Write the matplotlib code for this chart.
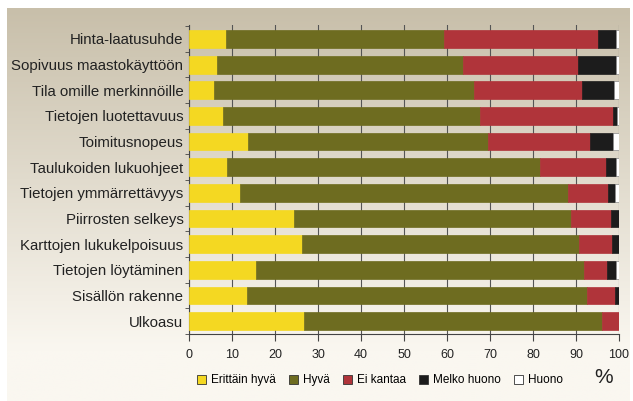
import matplotlib.pyplot as plt
import matplotlib
import numpy as np
from matplotlib.patches import Patch

matplotlib.rc('font', family=['Liberation Sans', 'DejaVu Sans'])

categories = ["Hinta-laatusuhde", "Sopivuus maastokäyttöön", "Tila omille merkinnöille",
              "Tietojen luotettavuus", "Toimitusnopeus", "Taulukoiden lukuohjeet",
              "Tietojen ymmärrettävyys", "Piirrosten selkeys", "Karttojen lukukelpoisuus",
              "Tietojen löytäminen", "Sisällön rakenne", "Ulkoasu"]
series_names = ["Erittäin hyvä", "Hyvä", "Ei kantaa", "Melko huono", "Huono"]

erittain_hyva = [8.7, 6.4, 5.8, 7.8, 13.8, 8.9, 11.8, 24.4, 26.2, 15.6, 13.6, 26.8]
hyva = [50.6, 57.4, 60.5, 59.9, 55.8, 72.8, 76.3, 64.5, 64.6, 76.2, 79.0, 69.3]
ei_kantaa = [35.8, 26.6, 25.1, 30.9, 23.6, 15.3, 9.3, 9.2, 7.6, 5.5, 6.4, 3.9]
melko_huono = [4.1, 9.0, 7.4, 0.9, 5.4, 2.4, 1.6, 1.8, 1.5, 2.1, 0.9, 0.0]
huono = [0.8, 0.6, 1.2, 0.5, 1.4, 0.6, 1.0, 0.1, 0.1, 0.6, 0.1, 0.0]

colors = ['#f4d822', '#6e6c20', '#b0343a', '#1c1c1c', '#ffffff']

fig = plt.figure(figsize=(6.33, 4.01), dpi=100)
fig.patch.set_facecolor('white')

# beige paper background with vertical fade
bg = fig.add_axes([7/633, 0, 1 - 10/633, 1 - 8/401], zorder=-10)
top = np.array([200, 191, 170]) / 255
bottom = np.array([250, 247, 240]) / 255
t = np.clip(np.linspace(0, 1.15, 200), 0, 1)[:, None, None]
grad = top * (1 - t) + bottom * t
grad = np.repeat(grad, 2, axis=1)
bg.imshow(grad, aspect='auto', extent=[0, 1, 0, 1])
bg.axis('off')

ax = fig.add_axes([189/633, 67/401, 430/633, 309/401])
ax.set_facecolor('none')

y = np.arange(len(categories))
left = np.zeros(len(categories))
for vals, col, name in zip([erittain_hyva, hyva, ei_kantaa, melko_huono, huono], colors, series_names):
    ec = '#888888' if col == '#ffffff' else col
    ax.barh(y, vals, left=left, height=0.7, color=col, edgecolor=ec, linewidth=0.5, zorder=3, label=name)
    left += np.array(vals)

ax.set_xlim(0, 100)
ax.set_ylim(11.39, -0.54)
ax.set_xticks(np.arange(0, 101, 10))
ax.set_yticks(y)
ax.set_yticklabels(categories, fontsize=10.8, color='#222222')
ax.set_yticks(np.arange(-0.5, 11.6, 1), minor=True)
ax.tick_params(axis='y', which='major', length=0, pad=4)
ax.tick_params(axis='y', which='minor', length=3, color='#444444', direction='out')
ax.tick_params(axis='x', labelsize=9, length=5, color='#444444', labelcolor='#222222', pad=6)
ax.xaxis.grid(True, color='#555555', linewidth=0.8, zorder=0)
ax.set_axisbelow(True)
for s in ['top', 'right']:
    ax.spines[s].set_visible(False)
for s in ['left', 'bottom']:
    ax.spines[s].set_color('#444444')
    ax.spines[s].set_linewidth(0.8)

handles = [Patch(facecolor=c, edgecolor='#333333', linewidth=0.6) for c in colors]
fig.legend(handles, series_names, loc='center', bbox_to_anchor=(0.600, 0.052), ncol=5,
           frameon=False, fontsize=8.5, handlelength=0.8, handleheight=0.8,
           handletextpad=0.4, columnspacing=1.1)
fig.text(0.953, 0.058, '%', fontsize=15, color='#222222', ha='center', va='center')

plt.savefig('out.png', dpi=100, facecolor='w')
